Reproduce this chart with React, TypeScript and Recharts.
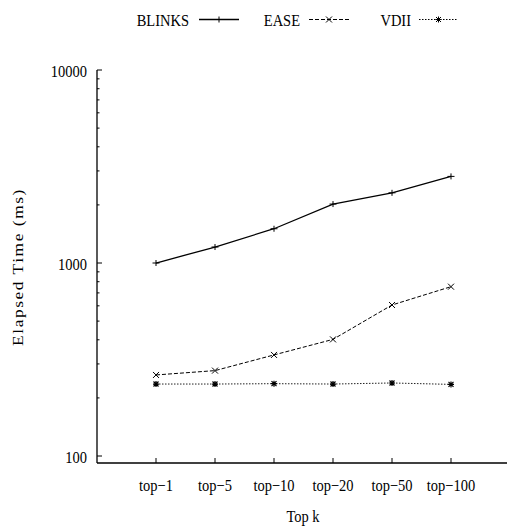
import React from "react";
import { LineChart, Line, XAxis, YAxis } from "recharts";

const categories = ["top\u22121", "top\u22125", "top\u221210", "top\u221220", "top\u221250", "top\u2212100"];
const blinks = [1000, 1210, 1505, 2020, 2310, 2810];
const ease = [263, 277, 334, 402, 606, 754];
const vdii = [236, 236, 237, 236, 239, 235];
const majorTicks = [100, 1000, 10000];
const allYTicks = [100, 200, 300, 400, 500, 600, 700, 800, 900, 1000, 2000, 3000, 4000, 5000, 6000, 7000, 8000, 9000, 10000];
const xTicks = [1, 2, 3, 4, 5, 6];

const data = categories.map((c, i) => ({ x: i + 1, cat: c, blinks: blinks[i], ease: ease[i], vdii: vdii[i] }));

const FONT = "'Liberation Serif', 'Times New Roman', serif";
const FS = 14.5;
const SY = 1.2;

const LeftTick = (p: any) => {
  const { x, y, payload } = p;
  const major = majorTicks.includes(payload.value);
  return (
    <g>
      <line x1={x} x2={x + (major ? 5 : 2.5)} y1={y} y2={y} stroke="#000" strokeWidth={1} />
      {major && (
        <text transform={`translate(${x - 10},${y + 6.5}) scale(1,${SY})`} textAnchor="end" fontFamily={FONT} fontSize={FS} fill="#000">
          {payload.value}
        </text>
      )}
    </g>
  );
};

const RightTick = (p: any) => {
  const { x, y, payload } = p;
  const major = majorTicks.includes(payload.value);
  return <line x1={x} x2={x - (major ? 5 : 2.5)} y1={y} y2={y} stroke="#000" strokeWidth={1} />;
};

const BottomTick = (p: any) => {
  const { x, y, payload } = p;
  return (
    <g>
      <line x1={x} x2={x} y1={y} y2={y - 5} stroke="#000" strokeWidth={1} />
      <text transform={`translate(${x},${y + 27.5}) scale(1,${SY})`} textAnchor="middle" fontFamily={FONT} fontSize={FS} fill="#000">
        {categories[payload.value - 1]}
      </text>
    </g>
  );
};

const TopTick = (p: any) => {
  const { x, y } = p;
  return <line x1={x} x2={x} y1={y} y2={y + 5} stroke="#000" strokeWidth={1} />;
};

const plusPath = (cx: number, cy: number) => `M${cx - 3.5},${cy}H${cx + 3.5}M${cx},${cy - 3}V${cy + 3}`;
const xPath = (cx: number, cy: number) => `M${cx - 3},${cy - 3}L${cx + 3},${cy + 3}M${cx - 3},${cy + 3}L${cx + 3},${cy - 3}`;
const starPath = (cx: number, cy: number) =>
  `M${cx - 3},${cy}H${cx + 3}M${cx},${cy - 3}V${cy + 3}M${cx - 2.5},${cy - 2.5}L${cx + 2.5},${cy + 2.5}M${cx - 2.5},${cy + 2.5}L${cx + 2.5},${cy - 2.5}`;

const PlusDot = (p: any) => <path key={`p${p.index}`} d={plusPath(p.cx, p.cy)} stroke="#000" strokeWidth={1} fill="none" />;
const XDot = (p: any) => <path key={`x${p.index}`} d={xPath(p.cx, p.cy)} stroke="#000" strokeWidth={1} fill="none" />;
const StarDot = (p: any) => <path key={`s${p.index}`} d={starPath(p.cx, p.cy)} stroke="#000" strokeWidth={1.2} fill="none" />;

const legendItems = [
  { name: "BLINKS", textEnd: 189, x1: 199, x2: 239, dash: undefined as string | undefined, marker: plusPath },
  { name: "EASE", textEnd: 300, x1: 309, x2: 349, dash: "4 2", marker: xPath },
  { name: "VDII", textEnd: 411, x1: 419, x2: 458, dash: "1.5 1.5", marker: starPath },
];

export default function App() {
  return (
    <div style={{ position: "absolute", left: 0, top: 0, width: 507, height: 526, overflow: "hidden", background: "#fff" }}>
      <LineChart width={515} height={526} data={data} margin={{ top: 70, right: 5, left: 0, bottom: 0 }}>
        <XAxis xAxisId="b" dataKey="x" type="number" domain={[0, 7]} ticks={xTicks} interval={0} height={63} tickSize={0} tickMargin={0} tickLine={false} axisLine={{ stroke: "#000", strokeWidth: 1.3 }} tick={<BottomTick />} />
        <XAxis xAxisId="t" orientation="top" dataKey="x" type="number" domain={[0, 7]} ticks={xTicks} interval={0} height={0} tickSize={0} tickMargin={0} tickLine={false} axisLine={{ stroke: "#000", strokeWidth: 1.3 }} tick={<TopTick />} />
        <YAxis yAxisId="l" scale="log" type="number" domain={[92, 10000]} ticks={allYTicks} interval={0} width={97} tickSize={0} tickMargin={0} tickLine={false} axisLine={{ stroke: "#000", strokeWidth: 1.3 }} tick={<LeftTick />} allowDataOverflow />
        <YAxis yAxisId="r" orientation="right" scale="log" type="number" domain={[92, 10000]} ticks={allYTicks} interval={0} width={0} tickSize={0} tickMargin={0} tickLine={false} axisLine={{ stroke: "#000", strokeWidth: 1.3 }} tick={<RightTick />} allowDataOverflow />
        <Line xAxisId="b" yAxisId="l" type="linear" dataKey="blinks" stroke="#000" strokeWidth={1.3} dot={PlusDot} activeDot={false} isAnimationActive={false} />
        <Line xAxisId="b" yAxisId="l" type="linear" dataKey="ease" stroke="#000" strokeWidth={1} strokeDasharray="4 2" dot={XDot} activeDot={false} isAnimationActive={false} />
        <Line xAxisId="b" yAxisId="l" type="linear" dataKey="vdii" stroke="#222" strokeWidth={1} strokeDasharray="1.5 1.5" dot={StarDot} activeDot={false} isAnimationActive={false} />
      </LineChart>
      <svg width={507} height={526} style={{ position: "absolute", left: 0, top: 0, pointerEvents: "none" }}>
        {legendItems.map((it) => (
          <g key={it.name}>
            <text transform={`translate(${it.textEnd},26) scale(1,${SY})`} textAnchor="end" fontFamily={FONT} fontSize={FS} fill="#000">
              {it.name}
            </text>
            <line x1={it.x1} x2={it.x2} y1={19.5} y2={19.5} stroke="#000" strokeWidth={it.dash ? 1 : 1.3} strokeDasharray={it.dash} />
            <path d={it.marker((it.x1 + it.x2) / 2, 19.5)} stroke="#000" strokeWidth={1} fill="none" />
          </g>
        ))}
        <text transform={`translate(23,267) scale(1,${SY}) rotate(-90)`} textAnchor="middle" fontFamily={FONT} fontSize={FS} letterSpacing={1.3} fill="#000">
          Elapsed Time (ms)
        </text>
        <text transform={`translate(303,522) scale(1,${SY})`} textAnchor="middle" fontFamily={FONT} fontSize={FS} fill="#000">
          Top k
        </text>
      </svg>
    </div>
  );
}
